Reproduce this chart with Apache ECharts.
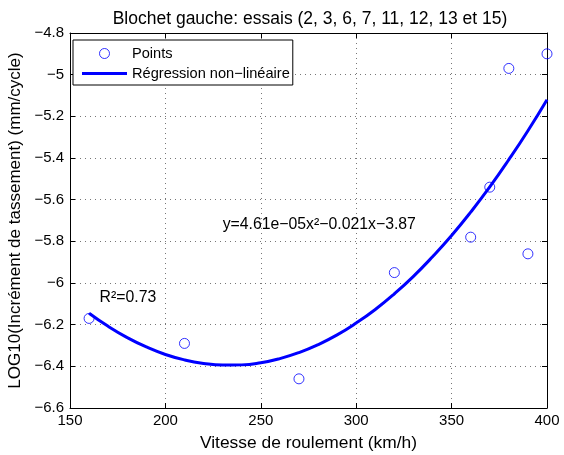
<!DOCTYPE html>
<html>
<head>
<meta charset="utf-8">
<script src="https://cdn.jsdelivr.net/npm/echarts@6/dist/echarts.min.js"></script>
<style>
html, body { margin: 0; padding: 0; background: #fff; }
#main { width: 564px; height: 455px; }
</style>
</head>
<body>
<div id="main"></div>
<script>
// points mesurés
var vitesse = [160, 210, 270, 320, 360, 370, 380, 390, 400];
var logInc = [-6.17, -6.29, -6.46, -5.95, -5.78, -5.54, -4.97, -5.86, -4.90];

// courbe de régression
var regX = [160, 170, 180, 190, 200, 210, 220, 230, 240, 250, 260, 270, 280,
            290, 300, 310, 320, 330, 340, 350, 360, 370, 380, 390, 400];
var regY = [-6.145, -6.208, -6.262, -6.307, -6.343, -6.369, -6.386, -6.394, -6.393,
            -6.383, -6.363, -6.334, -6.296, -6.249, -6.192, -6.127, -6.052, -5.968,
            -5.874, -5.772, -5.660, -5.539, -5.408, -5.269, -5.120];

// textes : [x, y, texte]
var annotations = [
    [165.5, -6.07, 'R²=0.73'],
    [230, -5.72, 'y=4.61e−05x²−0.021x−3.87']
];

var font = 'Liberation Sans, Arial, Helvetica, sans-serif';

var myChart = echarts.init(document.getElementById('main'));

var pts = vitesse.map(function (v, i) { return [v, logInc[i]]; });
var reg = regX.map(function (v, i) { return [v, regY[i]]; });

function fmt(v) {
    return String(Math.round(v * 10) / 10).replace('-', '−');
}

var gridLine = { show: true, lineStyle: { color: '#777', type: [1, 4], width: 1 } };

var option = {
    animation: false,
    backgroundColor: '#fff',
    title: {
        text: 'Blochet gauche: essais (2, 3, 6, 7, 11, 12, 13 et 15)',
        left: 305,
        textAlign: 'center',
        top: 5,
        textStyle: { fontFamily: font, fontSize: 17.5, fontWeight: 'normal', color: '#000' }
    },
    grid: { left: 70, right: 17, top: 33, bottom: 47, outerBoundsMode: 'none', containLabel: false },
    legend: {
        left: 73,
        top: 40,
        orient: 'vertical',
        itemWidth: 45,
        itemHeight: 10,
        itemGap: 5,
        padding: [6, 3, 4, 9],
        borderColor: '#000',
        borderWidth: 1,
        backgroundColor: '#fff',
        textStyle: { fontFamily: font, fontSize: 14.6, color: '#000' },
        data: [
            { name: 'Points', icon: 'circle', itemStyle: { borderWidth: 1 } },
            { name: 'Régression non−linéaire', icon: 'path://M0,0L45,0L45,3L0,3Z' }
        ]
    },
    xAxis: [{
        type: 'value',
        min: 150, max: 400, interval: 50,
        name: 'Vitesse de roulement (km/h)',
        nameLocation: 'middle',
        nameGap: 27,
        nameTextStyle: { fontFamily: font, fontSize: 17.4, color: '#000' },
        axisLine: { show: true, onZero: false, lineStyle: { color: '#000', width: 1 } },
        axisTick: { inside: true, length: 5, lineStyle: { color: '#000' } },
        axisLabel: { fontFamily: font, fontSize: 15, color: '#000', margin: 5 },
        splitLine: gridLine
    }, {
        type: 'value', position: 'top',
        min: 150, max: 400, interval: 50,
        axisLine: { show: true, onZero: false, lineStyle: { color: '#000', width: 1 } },
        axisTick: { inside: true, length: 5, lineStyle: { color: '#000' } },
        axisLabel: { show: false },
        splitLine: { show: false }
    }],
    yAxis: [{
        type: 'value',
        min: -6.6, max: -4.8, interval: 0.2,
        name: 'LOG10(Incrément de tassement) (mm/cycle)',
        nameLocation: 'middle',
        nameGap: 44,
        nameTextStyle: { fontFamily: font, fontSize: 17, color: '#000' },
        axisLine: { show: true, onZero: false, lineStyle: { color: '#000', width: 1 } },
        axisTick: { inside: true, length: 5, lineStyle: { color: '#000' } },
        axisLabel: { fontFamily: font, fontSize: 15, color: '#000', margin: 6, formatter: fmt },
        splitLine: gridLine
    }, {
        type: 'value', position: 'right',
        min: -6.6, max: -4.8, interval: 0.2,
        axisLine: { show: true, onZero: false, lineStyle: { color: '#000', width: 1 } },
        axisTick: { inside: true, length: 5, lineStyle: { color: '#000' } },
        axisLabel: { show: false },
        splitLine: { show: false }
    }],
    series: [{
        name: 'Régression non−linéaire',
        type: 'line',
        data: reg,
        smooth: true,
        showSymbol: false,
        symbol: 'none',
        lineStyle: { color: '#0000ff', width: 3 },
        itemStyle: { color: '#0000ff' },
        z: 2
    }, {
        name: 'Points',
        type: 'scatter',
        data: pts,
        symbol: 'circle',
        symbolSize: 10,
        itemStyle: { color: 'rgba(0,0,0,0)', borderColor: '#0000ff', borderWidth: 1 },
        z: 3
    }]
};

myChart.setOption(option);

// textes placés via les coordonnées des données
myChart.setOption({
    graphic: annotations.map(function (a) {
        var p = myChart.convertToPixel({ gridIndex: 0 }, [a[0], a[1]]);
        return {
            type: 'text',
            x: p[0],
            y: p[1],
            z: 10,
            style: {
                text: a[2],
                fill: '#000',
                font: '15.8px ' + font,
                verticalAlign: 'middle',
                align: 'left'
            }
        };
    })
});

window.addEventListener('resize', function () {
    myChart.resize();
});
</script>
</body>
</html>
